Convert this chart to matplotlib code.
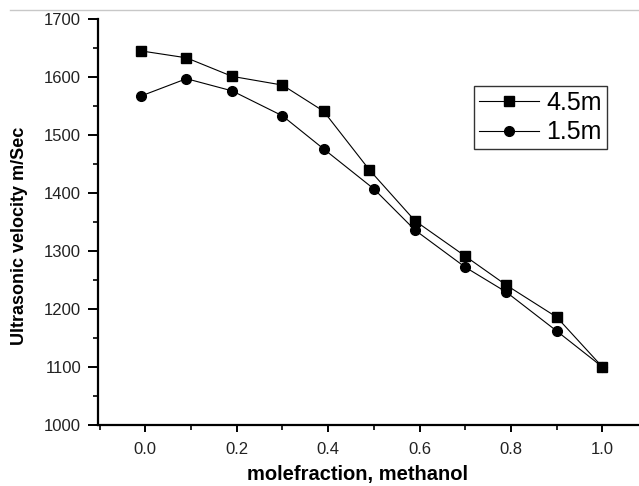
import numpy as np
import matplotlib
matplotlib.use("Agg")
import matplotlib.pyplot as plt
from matplotlib.lines import Line2D
from matplotlib.ticker import MultipleLocator

plt.rcParams['font.family'] = ['Liberation Sans', 'DejaVu Sans']

# mole fraction of methanol and ultrasonic velocity (m/s)
x_45 = [-0.01, 0.09, 0.19, 0.30, 0.39, 0.49, 0.59, 0.70, 0.79, 0.90, 1.00]
v_45 = [1645, 1633, 1601, 1586, 1541, 1440, 1352, 1291, 1241, 1186, 1100]

x_15 = [-0.01, 0.09, 0.19, 0.30, 0.39, 0.50, 0.59, 0.70, 0.79, 0.90, 1.00]
v_15 = [1567, 1597, 1576, 1533, 1476, 1407, 1336, 1272, 1229, 1162, 1100]

xticks = [0.0, 0.2, 0.4, 0.6, 0.8, 1.0]
yticks = [1000, 1100, 1200, 1300, 1400, 1500, 1600, 1700]

fig = plt.figure(figsize=(6.39, 4.86), dpi=100)
ax = fig.add_axes([0.153, 0.1255, 0.847, 0.8355])

ax.plot(x_45, v_45, '-', color='black', lw=0.8, marker='s', ms=6.5, label='4.5m')
ax.plot(x_15, v_15, '-', color='black', lw=0.8, marker='o', ms=7, label='1.5m')

ax.set_xlim(-0.104, 1.08)
ax.set_ylim(1000, 1700)
ax.set_xticks(xticks)
ax.set_xticklabels([f"{t:.1f}" for t in xticks])
ax.set_yticks(yticks)
ax.xaxis.set_minor_locator(MultipleLocator(0.1))
ax.yaxis.set_minor_locator(MultipleLocator(50))

for s in ['top', 'right']:
    ax.spines[s].set_visible(False)
for s in ['left', 'bottom']:
    ax.spines[s].set_linewidth(1.6)

ax.tick_params(axis='x', which='major', direction='out', length=5, width=1.4,
               labelsize=12, pad=7, labelcolor='#222222')
ax.tick_params(axis='y', which='major', direction='out', length=7, width=1.4,
               labelsize=12, pad=5, labelcolor='#222222')
ax.tick_params(which='minor', direction='out', length=3.5, width=1.2)

ax.set_xlabel('molefraction, methanol', fontsize=14.5, fontweight='bold')
ax.xaxis.set_label_coords(0.48, -0.098)
ax.set_ylabel('Ultrasonic velocity m/Sec', fontsize=13, fontweight='bold')
ax.yaxis.set_label_coords(-0.129, 0.466)

leg = ax.legend(loc='upper left', bbox_to_anchor=(0.695, 0.835), borderaxespad=0,
                fontsize=18, fancybox=False, frameon=True, handlelength=2.4,
                labelspacing=0.22, borderpad=0.2, handletextpad=0.3)
leg.get_frame().set_edgecolor('black')
leg.get_frame().set_linewidth(1.0)

# faint scan line across the top
fig.add_artist(Line2D([0.016, 1.0], [0.979, 0.979], color='#c8c8c8', lw=1))

fig.savefig('out.png', dpi=100)
